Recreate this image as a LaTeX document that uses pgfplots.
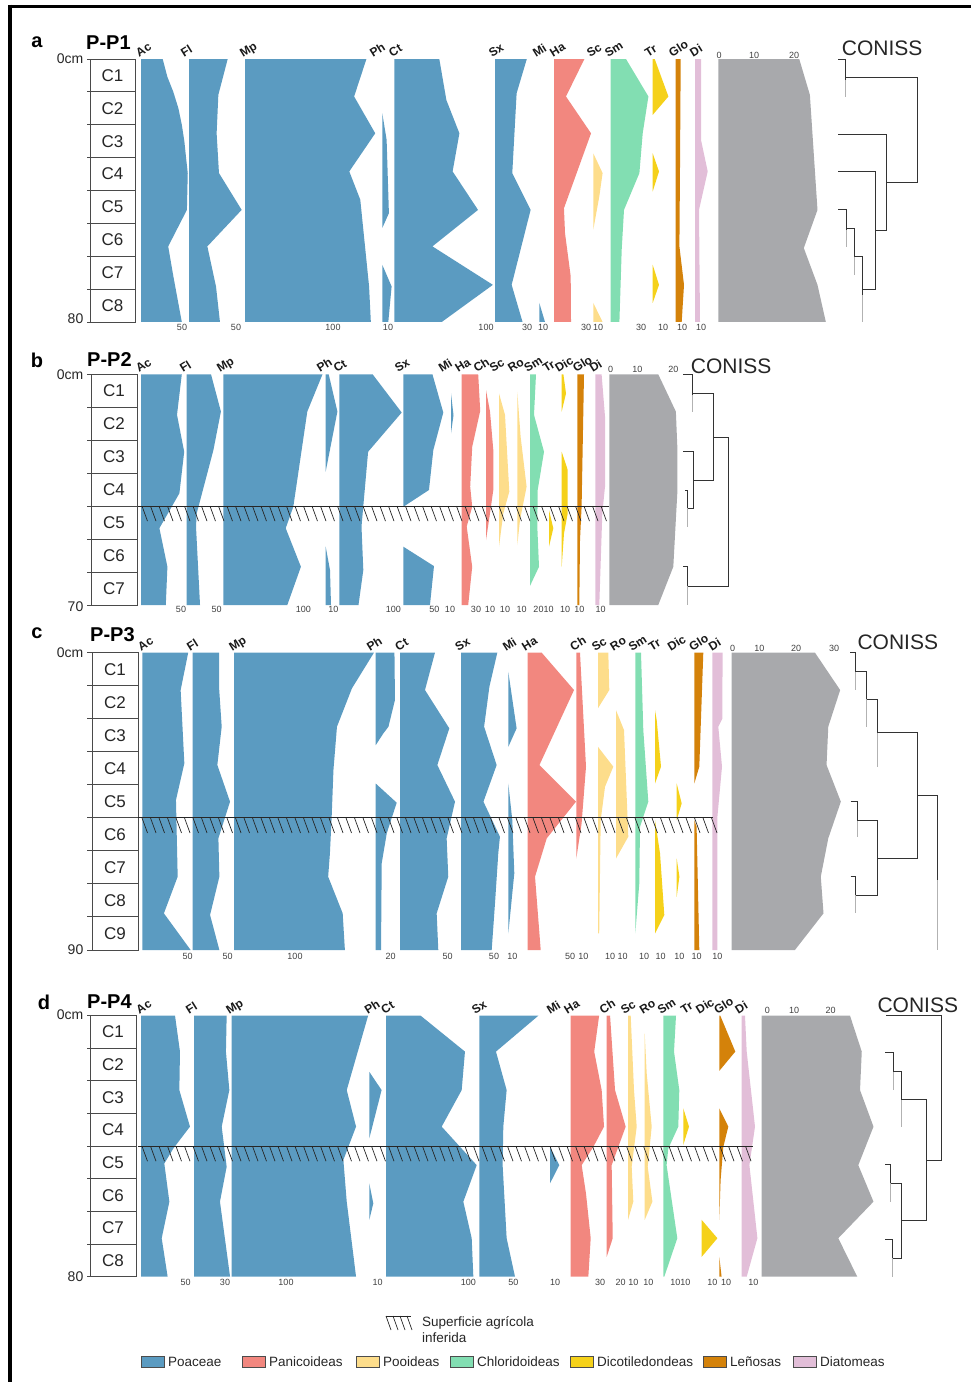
\documentclass[border=0pt]{standalone}
\usepackage{pgfplots}
\pgfplotsset{compat=1.18}
\usepackage{fontspec}
\setmainfont{Liberation Sans}
\definecolor{poa}{HTML}{5B9BC1}
\definecolor{pan}{HTML}{F2877F}
\definecolor{poo}{HTML}{FDDD8B}
\definecolor{chl}{HTML}{82DEB2}
\definecolor{dic}{HTML}{F5D11A}
\definecolor{len}{HTML}{D4820A}
\definecolor{dia}{HTML}{E2BED8}
\definecolor{tot}{HTML}{A8A9AC}
\definecolor{boxc}{HTML}{4A4A4A}
\newcommand{\fA}{\fontsize{20}{20}\selectfont\bfseries}
\newcommand{\fT}{\fontsize{12}{12}\selectfont\bfseries}
\newcommand{\fS}{\fontsize{9}{9}\selectfont}
\newcommand{\fC}{\fontsize{17}{17}\selectfont}
\newcommand{\fD}{\fontsize{14}{14}\selectfont}
\newcommand{\fN}{\fontsize{21}{21}\selectfont}
\newcommand{\fL}{\fontsize{13.5}{16}\selectfont}
% taxon silhouette: colour, baseline (px), px per unit, (value,depth) list
\newcommand{\tx}[4]{\addplot[fill=#1,draw=none,x filter/.expression={#2+#3*x}] coordinates {#4};}
\pgfplotsset{panel/.style n args={3}{at={(0pt,-#1pt)},anchor=north west,width=971pt,height=#2pt,
  scale only axis,xmin=0,xmax=971,ymin=0,ymax=#3,y dir=reverse,hide axis,clip=false,enlargelimits=false},
  dl/.style={color=black!80,line width=0.9pt},
  df/.style={color=black!30,line width=0.8pt}}
\newcommand{\dcol}[5]{%
  \draw[boxc,line width=1pt] (#1,#3) rectangle (#2,#4);
  \foreach \i in {0,...,#5} {\draw[boxc,line width=1pt] (87,{#3+\i*(#4-#3)/#5}) -- (#2,{#3+\i*(#4-#3)/#5});}
  \foreach \i in {1,...,#5} {\node[font=\fC,text=black!85] at ({(#1+#2)/2},{#3+(\i-0.5)*(#4-#3)/#5}) {C\i};}}
\newcommand{\tl}[3]{\node[rotate=32,anchor=base west,inner sep=0pt,font=\fT,text=black!90] at (#1,#2) {#3};}
\newcommand{\hatch}[3]{%
  \draw[line width=0.9pt,black!85] (138,#1) -- (#2,#1);
  \foreach \x in {142,150.5,...,#3} {\draw[line width=0.7pt,black!85] (\x,#1) -- ++(5.5,15);}}
\begin{document}
\begin{tikzpicture}
\useasboundingbox (0,0) rectangle (971pt,-1382pt);
%%%%%%%%%%%%%%%% PANEL a
\begin{axis}[panel={59}{263}{80}]
\tx{poa}{141}{0.85}{(0,0) (25.5,0) (31,5.4) (38,10) (44,15) (48,20) (51,25) (53,30) (55,34.7) (54,45.9) (32,57) (38,66) (48,80) (0,80)}
\tx{poa}{189}{0.9}{(0,0) (43,0) (32.6,10.9) (30.7,22.6) (33.3,34.7) (58.5,45.9) (20.4,57) (30,69.2) (34.4,80) (0,80)}
\tx{poa}{245}{0.88}{(0,0) (138,0) (124,11.4) (148,22.6) (118.5,34.2) (131,42.8) (141,69.2) (143,80) (0,80)}
\tx{poa}{382.3}{0.6}{(0,16.5) (7.2,24.6) (11,46.9) (0,51.4)}
\tx{poa}{382.3}{0.6}{(0,62.6) (15.5,69.2) (10,80) (0,80)}
\tx{poa}{394.3}{0.93}{(0,0) (48.4,0) (56,12.5) (70,22.6) (62.7,34.2) (90,45.9) (41,57) (106,68.7) (51,80) (0,80)}
\tx{poa}{495}{1.06}{(0,0) (30,0) (20.4,10.4) (16.3,34.7) (33.6,45.9) (15.7,68.7) (26,80) (0,80)}
\tx{poa}{539.3}{0.57}{(0,74.2) (10,80) (0,80)}
\tx{pan}{554}{1.07}{(0,0) (28.4,0) (11.2,11.4) (34.6,22.6) (9.3,45.4) (10.3,53) (15.6,66.1) (15.9,80) (0,80)}
\tx{poo}{593.3}{1}{(0,28.7) (9.3,34.7) (6,41.8) (0,51.9)}
\tx{poo}{593.3}{1}{(0,74.2) (9.3,80) (0,80)}
\tx{chl}{610.7}{1}{(0,0) (15.3,0) (37.7,11.4) (32,22.6) (28.7,34.7) (13.3,45.9) (11,58) (8.7,80) (0,80)}
\tx{dic}{652.7}{1}{(0,0) (2,0) (15.7,11.4) (0,17)}
\tx{dic}{652.7}{1}{(0,28.7) (6.3,34.2) (0,40.3)}
\tx{dic}{652.7}{1}{(0,62.6) (6.3,68.7) (0,74.2)}
\tx{len}{675.7}{1}{(0,0) (5,0) (4.3,32.7) (3.7,57) (8.3,68.7) (6,80) (0,80)}
\tx{dia}{695}{1}{(0,0) (6,0) (6,24.6) (12.7,34.2) (4,45.9) (5,80) (0,80)}
\tx{tot}{718.3}{3.8}{(0,0) (21.3,0) (24.1,10.9) (26.1,45.9) (22.5,57.5) (26.1,68.7) (28.3,80) (0,80)}
% CONISS
\pgfplotsset{dga/.style={y filter/.expression={(y-59)*80/263}}}
\addplot[dl,dga] coordinates {(838.3,59) (845.7,59) (845.7,80)};
\addplot[df,dga] coordinates {(845.7,80) (845.7,97)};
\addplot[dl,dga] coordinates {(845.7,77.3) (917.3,77.3) (917.3,182.3) (886.7,182.3)};
\addplot[dl,dga] coordinates {(838.3,134) (886.7,134) (886.7,230.7) (875.7,230.7)};
\addplot[dl,dga] coordinates {(838.3,171.7) (875.7,171.7) (875.7,289.3) (862.7,289.3)};
\addplot[dl,dga] coordinates {(838.3,209.3) (846.7,209.3) (846.7,230)};
\addplot[df,dga] coordinates {(846.7,230) (846.7,246.7)};
\addplot[dl,dga] coordinates {(846.7,228.7) (854.3,228.7) (854.3,256.7) (862.7,256.7) (862.7,295)};
\addplot[df,dga] coordinates {(854.3,256.7) (854.3,275)};
\addplot[df,dga] coordinates {(862.7,295) (862.7,322)};
\end{axis}
%%%%%%%%%%%%%%%% PANEL b
\begin{axis}[panel={374.3}{230.7}{70}]
\tx{poa}{141}{0.8}{(0,0) (51,0) (45,12.3) (54,23.5) (48,36.1) (23,46.7) (33,58.4) (31,70) (0,70)}
\tx{poa}{186.7}{0.6}{(0,0) (40.5,0) (57,11.3) (44.5,23) (16.7,42.2) (15.5,46.2) (22.2,70) (0,70)}
\tx{poa}{223.3}{0.8}{(0,0) (124,0) (105,11.3) (87.5,40.2) (78,46.7) (97,58.4) (80,70) (0,70)}
\tx{poa}{325.7}{1}{(0,0) (3,0) (11.7,11.3) (0,29.5)}
\tx{poa}{325.7}{1}{(0,52.3) (4.3,59.4) (5.3,70) (0,70)}
\tx{poa}{339.3}{0.6}{(0,0) (55.5,0) (104,11.6) (48,23.5) (37,46.2) (40,59.4) (32,70) (0,70)}
\tx{poa}{403.3}{0.62}{(0,0) (47,0) (64.5,11.6) (48.4,23) (41.4,35.1) (0,40.2)}
\tx{poa}{403.3}{0.62}{(0,52.3) (49.5,58.2) (43,70) (0,70)}
\tx{poa}{451}{1}{(0,5.8) (2.5,12.4) (0,17.9)}
\tx{pan}{461.7}{0.5}{(0,0) (33,0) (37,11.1) (21,22) (17,34.1) (21,40.2) (10,46.2) (21,58.4) (13,70) (0,70)}
\tx{pan}{486}{1}{(0,4.8) (4,11.3) (7.3,23) (7.3,35.1) (4,42.2) (0,50.3)}
\tx{poo}{499}{1}{(0,5.8) (6,12.3) (10.3,35.6) (4.3,42.2) (0,52.3)}
\tx{poo}{517.3}{1}{(0,5.3) (3.3,18.9) (9.3,34.1) (2.7,44.2) (0,51.8)}
\tx{chl}{530}{1}{(0,0) (6,0) (4,12.3) (14,23.5) (7.7,35.1) (7.3,46.2) (9,58.4) (0,64.2)}
\tx{dic}{549}{1}{(0,41.2) (4.3,46.7) (0,52.3)}
\tx{dic}{561.7}{1}{(0,0) (1.7,0) (4.3,5.8) (0,11.3)}
\tx{dic}{561.7}{1}{(0,23.5) (6,29) (6,42.2) (2.3,48.3) (0,58.4)}
\tx{len}{577.3}{1}{(0,0) (6.7,0) (6,11.8) (4.3,40.2) (2.7,50.3) (2,70) (0,70)}
\tx{dia}{595.3}{1}{(0,0) (6.3,0) (9.7,12.8) (9.7,34.1) (7,42.2) (4,70) (0,70)}
\tx{tot}{609.3}{3.2}{(0,0) (15.3,0) (20.8,11.3) (21.3,23) (21.3,35.1) (20,58.4) (15.3,70) (0,70)}
\pgfplotsset{dgb/.style={y filter/.expression={(y-374.3)*70/230.7}}}
\addplot[dl,dgb] coordinates {(683.3,374.3) (692.7,374.3) (692.7,395)};
\addplot[df,dgb] coordinates {(692.7,395) (692.7,411.7)};
\addplot[dl,dgb] coordinates {(692.7,393.3) (713.3,393.3) (713.3,480) (693.3,480)};
\addplot[dl,dgb] coordinates {(713.3,437.3) (728.3,437.3) (728.3,586) (687.3,586)};
\addplot[dl,dgb] coordinates {(683.3,451.7) (693.3,451.7) (693.3,508.3) (687.3,508.3)};
\addplot[dl,dgb] coordinates {(685,490) (687.3,490) (687.3,508)};
\addplot[df,dgb] coordinates {(687.3,508) (687.3,526.7)};
\addplot[dl,dgb] coordinates {(683.3,566.7) (687.3,566.7) (687.3,586)};
\addplot[df,dgb] coordinates {(687.3,586) (687.3,605)};
\end{axis}
%%%%%%%%%%%%%%%% PANEL c
\begin{axis}[panel={652.7}{297.3}{90}]
\tx{poa}{142.3}{0.9}{(0,0) (51,0) (42.6,11.3) (46.7,33.5) (37.4,44.6) (39.3,67.8) (24,78.9) (53.7,90) (0,90)}
\tx{poa}{192.7}{0.7}{(0,0) (37.6,0) (37.6,10.3) (41.4,22.4) (35.2,34) (53.3,45.1) (36.7,56.2) (38.1,67.8) (24.8,79.4) (38.1,90) (0,90)}
\tx{poa}{234}{0.88}{(0,0) (159,0) (134,10.8) (117,22.4) (113,35.5) (111,49.6) (109,60.7) (107,67.8) (123.5,78.9) (126,90) (0,90)}
\tx{poa}{375.7}{0.75}{(0,0) (25,0) (25.7,14.3) (17,22.4) (10.3,24.4) (0,28)}
\tx{poa}{375.7}{0.75}{(0,39.6) (28,45.4) (14.7,54.7) (8,63.8) (7.1,90) (0,90)}
\tx{poa}{400}{0.95}{(0,0) (36.8,0) (26.3,11.3) (51.9,22.9) (39.3,34) (57.9,45.1) (49.1,56.2) (50.8,67.8) (38.6,78.9) (40.3,90) (0,90)}
\tx{poa}{461}{0.66}{(0,0) (55,0) (43,10.3) (35,22.4) (54,34) (34,45.1) (59,55.7) (56.5,60.7) (51.5,75.9) (46.5,90) (0,90)}
\tx{poa}{508.3}{1}{(0,5.8) (8.3,22.9) (0,28.5)}
\tx{poa}{508.3}{1}{(0,39.6) (4,50.7) (6,66.8) (0,85)}
\tx{pan}{527.7}{0.85}{(0,0) (16.5,0) (54.5,11.3) (13.8,34) (56.8,45.1) (22.4,56.2) (8.6,67.8) (15.3,90) (0,90)}
\tx{pan}{576.3}{1}{(0,0) (3.7,0) (9.7,34.5) (5.3,51.7) (0,62.3)}
\tx{poo}{598}{1}{(0,0) (10.3,0) (11.3,11.3) (0,16.8)}
\tx{poo}{598}{1}{(0,28.5) (15.3,34.5) (7,40.6) (2.7,50.7) (1.2,85) (0,85)}
\tx{poo}{616}{1}{(0,17.4) (8,23.4) (12.3,55.7) (0,62.3)}
\tx{chl}{635.3}{1}{(0,0) (5.7,0) (8,23.4) (13,45.1) (4.7,52.7) (4,69.8) (0,85)}
\tx{dic}{655}{1}{(0,17.4) (1.7,20.4) (6,34.5) (0,39.6)}
\tx{dic}{655}{1}{(0,50.7) (5,60.7) (9.3,79.4) (0,85)}
\tx{dic}{676.7}{1}{(0,39.6) (5,45.6) (0,50.7)}
\tx{dic}{676.7}{1}{(0,62.3) (2.7,67.8) (0,73.9)}
\tx{len}{694.3}{1}{(0,0) (9,0) (5,34.5) (0,39.6)}
\tx{len}{694.3}{1}{(0,50.7) (2.3,52.7) (5,90) (0,90)}
\tx{dia}{712.3}{1}{(0,0) (10.3,0) (10,20) (6,22.4) (9.7,34.5) (5,50) (5,90) (0,90)}
\tx{tot}{731.7}{3.4}{(0,0) (24.5,0) (31.9,11.3) (28.4,22.4) (27.9,34) (32.1,45.1) (28.4,56.2) (26.2,67.8) (27,78.9) (18.6,90) (0,90)}
\pgfplotsset{dgc/.style={y filter/.expression={(y-652.7)*90/297.3}}}
\addplot[dl,dgc] coordinates {(850,652.7) (855,652.7) (855,671.7)};
\addplot[df,dgc] coordinates {(855,671.7) (855,690)};
\addplot[dl,dgc] coordinates {(855,671.7) (866.7,671.7) (866.7,699.3)};
\addplot[df,dgc] coordinates {(866.7,699.3) (866.7,726.7)};
\addplot[dl,dgc] coordinates {(866.7,699.3) (877.3,699.3) (877.3,732.7)};
\addplot[df,dgc] coordinates {(877.3,732.7) (877.3,766.7)};
\addplot[dl,dgc] coordinates {(877.3,732.7) (917.3,732.7) (917.3,858.3) (877.3,858.3)};
\addplot[dl,dgc] coordinates {(917.3,795) (937.3,795) (937.3,880)};
\addplot[df,dgc] coordinates {(937.3,880) (937.3,950)};
\addplot[dl,dgc] coordinates {(850.7,801.7) (857.7,801.7) (857.7,820.7)};
\addplot[df,dgc] coordinates {(857.7,820.7) (857.7,836.7)};
\addplot[dl,dgc] coordinates {(857.7,820.7) (877.3,820.7) (877.3,895) (855.7,895)};
\addplot[dl,dgc] coordinates {(850.7,876.7) (855.7,876.7) (855.7,895)};
\addplot[df,dgc] coordinates {(855.7,895) (855.7,913.3)};
\end{axis}
%%%%%%%%%%%%%%%% PANEL d
\begin{axis}[panel={1015.7}{261}{80}]
\tx{poa}{141}{0.9}{(0,0) (37.8,0) (43.3,11) (42.6,22.8) (54.4,34) (35.9,40.7) (25.9,45.3) (31.5,57) (23,68.2) (29.6,80) (0,80)}
\tx{poa}{194}{1.03}{(0,0) (31.7,0) (31,11) (34.3,22.8) (26.9,34) (31.7,46.3) (25.2,57) (35,80) (0,80)}
\tx{poa}{231.7}{0.88}{(0,0) (155,0) (130.7,22.8) (141.3,34) (126.9,44.2) (130.7,57) (141.3,80) (0,80)}
\tx{poa}{369.3}{1}{(0,17.2) (12.3,22.8) (0,37.6)}
\tx{poa}{369.3}{1}{(0,51.4) (4,57.5) (0,62.6)}
\tx{poa}{386}{0.82}{(0,0) (42.3,0) (96.3,11) (92.3,22.8) (67.9,34) (110.6,45.8) (94.3,57) (104.5,68.2) (106.5,80) (0,80)}
\tx{poa}{479.3}{0.68}{(0,0) (86.8,0) (24.5,11) (40.2,22.8) (35.3,34) (34.3,45.8) (40.2,68.2) (52.5,80) (0,80)}
\tx{poa}{550}{1}{(0,40.2) (9.3,45.8) (0,51.4)}
\tx{pan}{570.7}{0.98}{(0,0) (29,0) (24,11) (31.6,22.8) (34,34) (23.1,40.2) (11.2,45.8) (15.6,54.5) (20.4,68.2) (18,80) (0,80)}
\tx{pan}{606.7}{0.7}{(0,0) (4.8,0) (11.9,22.8) (27.1,34) (7.1,45.8) (8.6,68.2) (0,73.9)}
\tx{poo}{628}{1}{(0,0) (2.7,0) (6,22.8) (8.7,34) (3.7,46.3) (5.3,57) (0,62.6)}
\tx{poo}{644.7}{1}{(0,5.4) (2,17.7) (7,34) (3,46.3) (7.7,57) (0,62.6)}
\tx{chl}{663.3}{1}{(0,0) (12.7,0) (10.7,11) (16,22.8) (15,34) (5,40.7) (3.3,45.8) (14,68.2) (1,80) (0,80)}
\tx{dic}{683.3}{1}{(0,28.4) (5.7,34) (0,39.6)}
\tx{dic}{701.7}{1}{(0,62.6) (15.7,68.2) (0,73.9)}
\tx{len}{719.3}{1}{(0,0) (1,0) (16,11) (0,16.9)}
\tx{len}{719.3}{1}{(0,28.4) (9,34) (4,40.2) (1.3,50.4) (0,62.6)}
\tx{len}{719.3}{1}{(0,73.9) (2.3,80) (0,80)}
\tx{dia}{741.7}{1}{(0,0) (3.3,0) (5,11) (13.3,34) (7.7,45.8) (15.7,68.2) (5,80) (0,80)}
\tx{tot}{761.7}{3.45}{(0,0) (25.6,0) (29,11) (28.5,22.8) (32.4,34) (28,45.8) (32.4,57) (22.2,68.2) (27.7,80) (0,80)}
\pgfplotsset{dgd/.style={y filter/.expression={(y-1015.7)*80/261}}}
\addplot[dl,dgd] coordinates {(886,1015.7) (941,1015.7) (941,1160) (926.7,1160)};
\addplot[dl,dgd] coordinates {(885,1052.7) (893.3,1052.7) (893.3,1071.7)};
\addplot[df,dgd] coordinates {(893.3,1071.7) (893.3,1090)};
\addplot[dl,dgd] coordinates {(893.3,1071.7) (901,1071.7) (901,1099)};
\addplot[df,dgd] coordinates {(901,1099) (901,1126.7)};
\addplot[dl,dgd] coordinates {(901,1099) (926.7,1099) (926.7,1220) (901.7,1220)};
\addplot[dl,dgd] coordinates {(885,1164.3) (890.7,1164.3) (890.7,1183.3)};
\addplot[df,dgd] coordinates {(890.7,1183.3) (890.7,1201.7)};
\addplot[dl,dgd] coordinates {(890.7,1183.3) (901.7,1183.3) (901.7,1258.3) (892.3,1258.3)};
\addplot[dl,dgd] coordinates {(885,1239.3) (892.3,1239.3) (892.3,1258.3)};
\addplot[df,dgd] coordinates {(892.3,1258.3) (892.3,1276.7)};
\end{axis}
%%%%%%%%%%%%%%%% decorations in pixel coordinates
\begin{scope}[x=1pt,y=-1pt]
\draw[line width=3.5pt] (8,6.3) -- (971,6.3);
\draw[line width=4pt] (9.7,4.5) -- (9.7,1382);
% panel letters and titles
\node[font=\fA] at (37,42) {a};
\node[font=\fA,anchor=west,inner sep=0pt] at (86,43) {P-P1};
\node[font=\fA] at (37,360) {b};
\node[font=\fA,anchor=west,inner sep=0pt] at (87,360) {P-P2};
\node[font=\fA] at (37,633) {c};
\node[font=\fA,anchor=west,inner sep=0pt] at (90,635) {P-P3};
\node[font=\fA] at (44,1002) {d};
\node[font=\fA,anchor=west,inner sep=0pt] at (87,1002) {P-P4};
% depth labels
\foreach \y/\t in {59/0cm,318.3/80,374.3/0cm,606.7/70,652.7/0cm,949.3/90,1015/0cm,1276.7/80}
  {\node[font=\fD,anchor=east,inner sep=0pt,text=black!85] at (83.5,\y) {\t};}
% depth columns
\dcol{90}{135}{59}{322}{8}
\dcol{91}{137}{374.3}{605}{7}
\dcol{92}{138}{652.7}{950}{9}
\dcol{90}{136}{1015.7}{1276.7}{8}
% hatching (inferred agricultural surface)
\hatch{506.1}{609}{601}
\hatch{817.9}{713}{714}
\hatch{1146.2}{753}{749}
% taxon labels
\foreach \x/\t in {139/Ac,184/Fl,243/Mp,373/Ph,392/Ct,492/Sx,536/Mi,553/Ha,590/Sc,608/Sm,648/Tr,672/Glo,693/Di}{\tl{\x}{57.5}{\t}}
\foreach \x/\t in {139/Ac,183/Fl,220/Mp,320/Ph,336.7/Ct,398/Sx,441.7/Mi,458.3/Ha,476.7/Ch,492.7/Sc,511/Ro,527.3/Sm,546/Tr,558.3/Dic,576/Glo,592.7/Di}{\tl{\x}{373}{\t}}
\foreach \x/\t in {141/Ac,190/Fl,232.3/Mp,370/Ph,398.3/Ct,458.3/Sx,506/Mi,525/Ha,573.3/Ch,595/Sc,613.3/Ro,631.7/Sm,651.7/Tr,670.7/Dic,692.3/Glo,711.7/Di}{\tl{\x}{651.5}{\t}}
\foreach \x/\t in {139.3/Ac,189/Fl,229.3/Mp,367.7/Ph,384.3/Ct,475/Sx,550/Mi,567.3/Ha,602.7/Ch,624/Sc,642.7/Ro,660.7/Sm,684/Tr,699/Dic,717.3/Glo,738.3/Di}{\tl{\x}{1014.5}{\t}}
% bottom scale labels
\foreach \x/\t in {182/50,236/50,333/100,388/10,486/100,527/30,543/10,586/30,598/10,641/30,663/10,682/10,701/10}{\node[font=\fS,text=black!75] at (\x,327) {\t};}
\foreach \x/\t in {181/50,216.7/50,303.3/100,333.3/10,393.3/100,434.3/50,450/10,476/30,490/10,505/10,521.7/10,538.5/20,548.5/10,565/10,579.3/10,600.7/10}{\node[font=\fS,text=black!75] at (\x,609.5) {\t};}
\foreach \x/\t in {187.7/50,227.7/50,295/100,390.7/20,447.7/50,494/50,512.3/10,570/50,583.3/10,610/10,622.7/10,644/10,660.7/10,679.3/10,696.7/10,717.3/10}{\node[font=\fS,text=black!75] at (\x,956) {\t};}
\foreach \x/\t in {185.7/50,225/30,286/100,377.7/10,468.3/100,513.3/50,555/10,600/30,620.7/20,633.3/10,648.3/10,675.3/10,685.3/10,712.3/10,726/10,753.3/10}{\node[font=\fS,text=black!75] at (\x,1282) {\t};}
% total-column scales
\foreach \x/\t in {719/0,754/10,794/20}{\node[font=\fS,text=black!75] at (\x,55) {\t};}
\foreach \x/\t in {610.7/0,637.3/10,673.3/20}{\node[font=\fS,text=black!75] at (\x,369.5) {\t};}
\foreach \x/\t in {732.7/0,759.3/10,796/20,834/30}{\node[font=\fS,text=black!75] at (\x,648.3) {\t};}
\foreach \x/\t in {767.3/0,794/10,830.7/20}{\node[font=\fS,text=black!75] at (\x,1010) {\t};}
% CONISS titles
\node[font=\fN,anchor=west,inner sep=0pt,text=black!85] at (841.7,48) {CONISS};
\node[font=\fN,anchor=west,inner sep=0pt,text=black!85] at (690.7,366) {CONISS};
\node[font=\fN,anchor=west,inner sep=0pt,text=black!85] at (857.3,642.7) {CONISS};
\node[font=\fN,anchor=west,inner sep=0pt,text=black!85] at (877.3,1005) {CONISS};
% legend
\draw[line width=0.8pt,black!85] (386,1316) -- (411,1316);
\foreach \x in {386,393,400,407}{\draw[line width=0.7pt,black!85] (\x,1316) -- ++(5,14);}
\node[font=\fL,anchor=west,align=left,inner sep=0pt,text=black!85] at (422,1330) {Superficie agrícola\\inferida};
\foreach \xa/\c/\t in {141/poa/Poaceae,242/pan/Panicoideas,356/poo/Pooideas,450/chl/Chloridoideas,570/dic/Dicotiledondeas,703/len/Leñosas,793/dia/Diatomeas}{
  \draw[fill=\c,draw=black!70,line width=0.6pt] (\xa,1356.5) rectangle ++(23,11);
  \node[font=\fL,anchor=west,inner sep=0pt,text=black!85] at (\xa+27,1362) {\t};}
\end{scope}
\end{tikzpicture}
\end{document}
